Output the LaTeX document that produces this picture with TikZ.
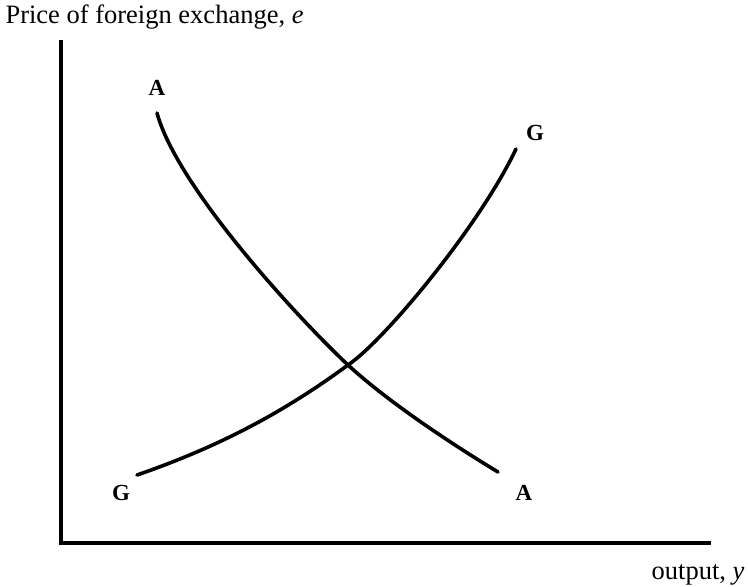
\documentclass[tikz,border=0pt]{standalone}
\usepackage{fontspec}
\setmainfont{Liberation Serif}
\begin{document}
\begin{tikzpicture}[x=1pt, y=-1pt, font=\fontsize{26.5}{31}\selectfont]
    \useasboundingbox (0,0) rectangle (748,587);
    % axes
    \coordinate (ytop) at (61,40);
    \coordinate (origin) at (61,543);
    \coordinate (xend) at (711,543);
    \draw[line width=3.6pt] (ytop) -- (origin) -- (xend);
    \node[anchor=west] (ylab) at (2,17) {Price of foreign exchange, \textit{e}};
    \node[anchor=east] (xlab) at (748,575) {output, \textit{y}};
    % AA and GG curves
    \coordinate (a1) at (157,113);
    \coordinate (a2) at (498,472);
    \coordinate (g1) at (137,475);
    \coordinate (g2) at (516,149);
    \coordinate (eq) at (348,365);
    \draw[line width=3.6pt, line cap=round]
      (a1) .. controls (178,190) and (305,325) .. (eq)
           .. controls (387,401) and (450,443) .. (a2);
    \draw[line width=3.6pt, line cap=round]
      (g1) .. controls (215,448) and (280,415) .. (eq)
           .. controls (385,340) and (480,225) .. (g2);
    \node[font=\fontsize{23}{27}\selectfont\bfseries] (atop) at (157,88) {A};
    \node[font=\fontsize{23}{27}\selectfont\bfseries] (abot) at (524,493) {A};
    \node[font=\fontsize{23}{27}\selectfont\bfseries] (gtop) at (535,133) {G};
    \node[font=\fontsize{23}{27}\selectfont\bfseries] (gbot) at (121,493) {G};
\end{tikzpicture}
\end{document}
